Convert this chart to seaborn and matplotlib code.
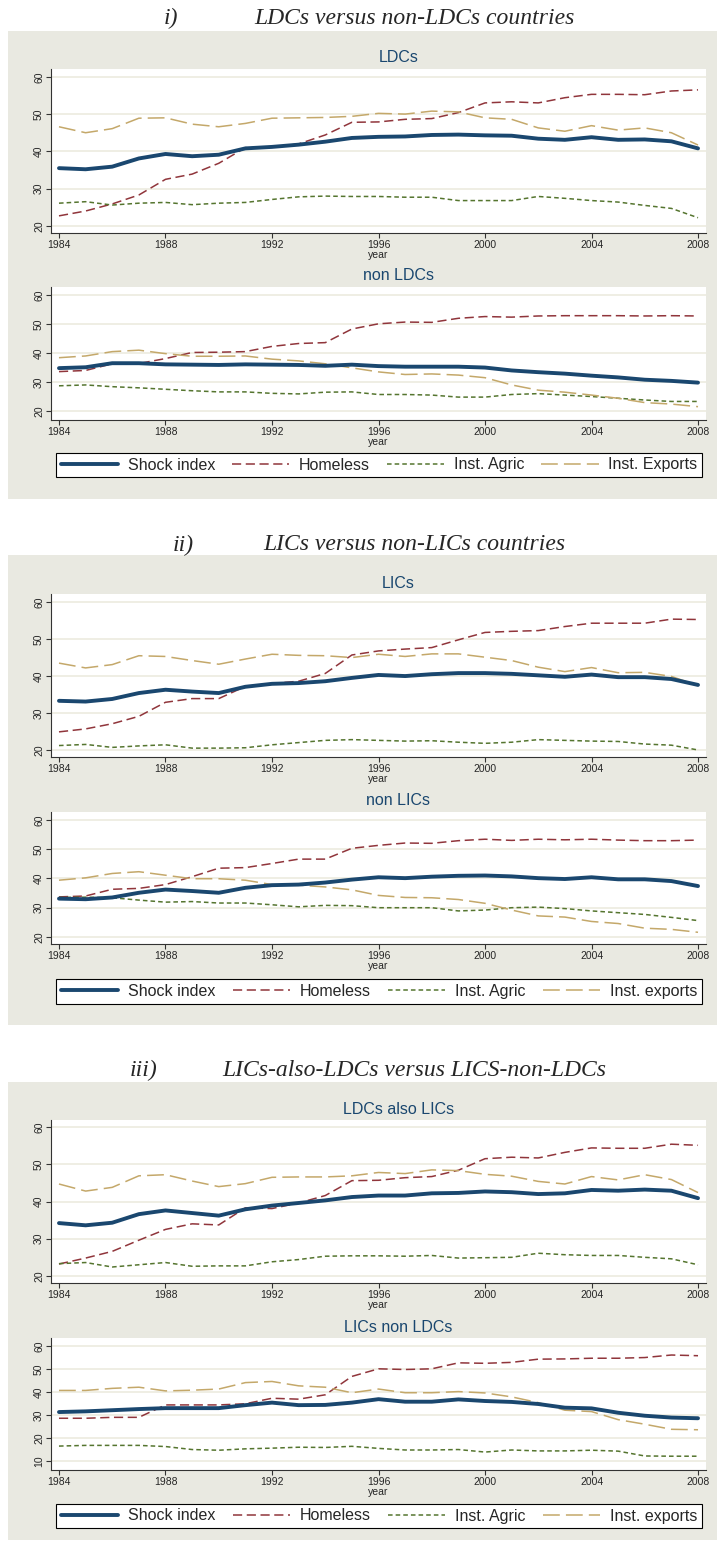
import numpy as np
import pandas as pd
import matplotlib
matplotlib.use("Agg")
import matplotlib.pyplot as plt
from matplotlib.patches import Rectangle
import seaborn as sns

# ---- data (1984-2008) ----
years = list(range(1984, 2009))

ldc_shock = [35.5, 35.2, 35.9, 38.1, 39.3, 38.7, 39.1, 40.8, 41.2, 41.8, 42.6, 43.6, 43.9, 44.0, 44.4, 44.5,
             44.3, 44.2, 43.4, 43.1, 43.8, 43.1, 43.2, 42.7, 40.8]
ldc_homeless = [22.7, 24.0, 25.9, 28.3, 32.5, 33.9, 36.8, 41.0, 41.1, 42.0, 44.4, 47.8, 47.9, 48.6, 48.8, 50.4,
                53.0, 53.3, 53.0, 54.4, 55.3, 55.3, 55.2, 56.2, 56.5]
ldc_agric = [26.1, 26.5, 25.6, 26.1, 26.3, 25.7, 26.1, 26.3, 27.1, 27.8, 28.0, 27.9, 27.9, 27.7, 27.7, 26.8,
             26.8, 26.8, 27.9, 27.4, 26.8, 26.4, 25.5, 24.7, 22.2]
ldc_exports = [46.6, 45.0, 46.1, 48.9, 49.0, 47.3, 46.6, 47.5, 48.9, 49.0, 49.1, 49.4, 50.2, 50.0, 50.8, 50.6,
               49.0, 48.6, 46.3, 45.4, 46.9, 45.7, 46.3, 45.0, 41.7]

nonldc_shock = [34.8, 35.1, 36.5, 36.5, 36.1, 36.0, 35.9, 36.1, 36.0, 35.9, 35.6, 36.0, 35.5, 35.3, 35.3, 35.3,
                35.0, 34.0, 33.4, 32.9, 32.2, 31.6, 30.8, 30.4, 29.8]
nonldc_homeless = [33.6, 34.0, 36.3, 36.4, 38.1, 40.2, 40.3, 40.5, 42.3, 43.3, 43.6, 48.3, 50.1, 50.7, 50.6, 52.0,
                   52.6, 52.4, 52.8, 52.9, 52.9, 52.9, 52.8, 52.9, 52.8]
nonldc_agric = [28.7, 29.0, 28.4, 28.0, 27.5, 27.0, 26.6, 26.6, 26.1, 25.9, 26.5, 26.6, 25.7, 25.7, 25.5, 24.8,
                24.8, 25.7, 26.0, 25.5, 25.0, 24.4, 23.8, 23.3, 23.3]
nonldc_exports = [38.4, 39.0, 40.5, 41.0, 39.8, 38.9, 38.9, 39.0, 37.9, 37.3, 36.3, 34.9, 33.5, 32.6, 32.8, 32.4,
                  31.5, 29.0, 27.2, 26.5, 25.5, 24.4, 22.9, 22.4, 21.5]

lic_shock = [33.3, 33.1, 33.8, 35.4, 36.3, 35.8, 35.4, 37.1, 37.9, 38.1, 38.6, 39.5, 40.3, 40.0, 40.5, 40.8,
             40.8, 40.6, 40.2, 39.8, 40.4, 39.7, 39.7, 39.2, 37.6]
lic_homeless = [24.9, 25.7, 27.1, 29.1, 32.9, 33.9, 33.9, 37.2, 38.0, 38.6, 40.7, 45.7, 46.8, 47.3, 47.7, 49.8,
                51.8, 52.1, 52.3, 53.4, 54.3, 54.3, 54.3, 55.4, 55.3]
lic_agric = [21.2, 21.5, 20.7, 21.1, 21.4, 20.5, 20.5, 20.6, 21.4, 22.0, 22.6, 22.8, 22.6, 22.4, 22.5, 22.1,
             21.8, 22.1, 22.8, 22.6, 22.4, 22.3, 21.6, 21.3, 20.0]
lic_exports = [43.5, 42.2, 43.1, 45.5, 45.3, 44.2, 43.2, 44.6, 45.9, 45.6, 45.5, 45.0, 45.9, 45.3, 46.0, 46.0,
               45.1, 44.2, 42.4, 41.2, 42.3, 40.9, 41.0, 39.9, 37.4]

nonlic_shock = [33.1, 32.9, 33.5, 35.1, 36.2, 35.7, 35.1, 36.8, 37.7, 37.9, 38.6, 39.6, 40.4, 40.1, 40.6, 40.9,
                41.0, 40.7, 40.1, 39.8, 40.4, 39.7, 39.7, 39.1, 37.4]
nonlic_homeless = [33.7, 34.0, 36.3, 36.6, 37.9, 40.6, 43.5, 43.7, 45.1, 46.6, 46.6, 50.3, 51.3, 52.1, 52.0, 52.9,
                   53.4, 53.0, 53.4, 53.2, 53.4, 53.1, 52.9, 52.9, 53.1]
nonlic_agric = [33.5, 33.6, 33.4, 32.6, 31.9, 32.1, 31.6, 31.6, 31.0, 30.3, 30.8, 30.7, 30.0, 30.0, 30.0, 28.9,
                29.2, 30.0, 30.2, 29.7, 28.9, 28.3, 27.7, 26.7, 25.6]
nonlic_exports = [39.4, 40.2, 41.7, 42.3, 41.1, 39.9, 39.9, 39.4, 37.9, 37.7, 37.1, 36.1, 34.2, 33.5, 33.4, 32.8,
                  31.5, 29.2, 27.2, 26.8, 25.3, 24.6, 23.0, 22.6, 21.6]

ldclic_shock = [34.2, 33.6, 34.3, 36.6, 37.6, 36.9, 36.2, 37.9, 38.9, 39.6, 40.3, 41.2, 41.6, 41.6, 42.2, 42.3,
                42.7, 42.5, 42.0, 42.2, 43.1, 42.9, 43.2, 42.9, 40.9]
ldclic_homeless = [23.2, 24.8, 26.6, 29.6, 32.5, 34.0, 33.7, 38.3, 38.1, 39.6, 41.6, 45.6, 45.7, 46.4, 46.7, 48.4,
                   51.5, 51.9, 51.7, 53.2, 54.4, 54.3, 54.3, 55.4, 55.1]
ldclic_agric = [23.3, 23.6, 22.4, 23.0, 23.6, 22.6, 22.7, 22.7, 23.8, 24.4, 25.3, 25.4, 25.4, 25.3, 25.5, 24.8,
                24.9, 25.0, 26.1, 25.7, 25.5, 25.5, 25.0, 24.6, 23.0]
ldclic_exports = [44.7, 42.8, 43.8, 46.9, 47.2, 45.5, 44.0, 44.8, 46.5, 46.6, 46.6, 46.9, 47.8, 47.5, 48.5, 48.3,
                  47.3, 46.8, 45.4, 44.7, 46.7, 45.8, 47.2, 45.9, 42.4]

licnonldc_shock = [31.3, 31.6, 32.1, 32.6, 33.0, 33.0, 33.0, 34.3, 35.4, 34.3, 34.4, 35.4, 36.9, 35.8, 35.8, 36.8,
                   36.1, 35.7, 34.8, 33.2, 32.9, 31.0, 29.7, 28.9, 28.6]
licnonldc_homeless = [28.6, 28.6, 29.0, 29.0, 34.4, 34.4, 34.4, 34.9, 37.3, 36.9, 38.8, 46.8, 50.1, 49.8, 50.1, 52.7,
                      52.5, 52.9, 54.3, 54.4, 54.7, 54.7, 55.0, 56.1, 55.8]
licnonldc_agric = [16.5, 16.8, 16.8, 16.8, 16.3, 15.0, 14.7, 15.3, 15.6, 16.0, 15.9, 16.4, 15.5, 14.8, 14.8, 15.0,
                   13.9, 14.8, 14.4, 14.4, 14.7, 14.3, 12.2, 12.1, 12.1]
licnonldc_exports = [40.7, 40.7, 41.6, 42.1, 40.5, 40.8, 41.3, 44.1, 44.6, 42.7, 42.1, 39.7, 41.3, 39.7, 39.7, 40.2,
                     39.6, 37.9, 35.4, 32.1, 31.5, 28.0, 26.0, 23.8, 23.6]

series_names = ["Shock index", "Homeless", "Inst. Agric", "Inst. Exports"]
series_names_b = ["Shock index", "Homeless", "Inst. Agric", "Inst. exports"]

sections = [
    ("i)", "LDCs versus non-LDCs countries", series_names,
     ("LDCs", [ldc_shock, ldc_homeless, ldc_agric, ldc_exports]),
     ("non LDCs", [nonldc_shock, nonldc_homeless, nonldc_agric, nonldc_exports])),
    ("ii)", "LICs versus non-LICs countries", series_names_b,
     ("LICs", [lic_shock, lic_homeless, lic_agric, lic_exports]),
     ("non LICs", [nonlic_shock, nonlic_homeless, nonlic_agric, nonlic_exports])),
    ("iii)", "LICs-also-LDCs versus LICS-non-LDCs", series_names_b,
     ("LDCs also LICs", [ldclic_shock, ldclic_homeless, ldclic_agric, ldclic_exports]),
     ("LICs non LDCs", [licnonldc_shock, licnonldc_homeless, licnonldc_agric, licnonldc_exports])),
]

# ---- styling ----
colors = ["#1a476f", "#90353b", "#55752f", "#c4a86a"]
widths = [2.8, 1.1, 1.1, 1.1]
styles = ["-", (0, (6, 3)), (0, (3, 2)), (0, (11, 4))]
panel_bg = "#e9e9e1"
grid_c = "#ecebdf"
navy = "#1a476f"

sns.set_theme(style="white")
plt.rcParams["font.family"] = ["Liberation Sans", "DejaVu Sans"]

W, H = 717, 1544
fig = plt.figure(figsize=(W / 100, H / 100), dpi=100)
fig.patch.set_facecolor("white")


def fx(px):
    return px / W


def fy(px):
    return 1 - px / H


# pixel layout of each section
layout = [
    dict(title_y=18, ix=171, panel=(31, 499),
         top=(57, 69, 233, (18.1, 62.1)), bot=(276, 287, 420, (16.9, 62.8)), leg=(452, 478)),
    dict(title_y=545, ix=183, panel=(555, 1025),
         top=(583, 594, 757, (18.1, 62.2)), bot=(801, 812, 944, (17.6, 62.7)), leg=(979, 1004)),
    dict(title_y=1070, ix=144, panel=(1082, 1540),
         top=(1110, 1120, 1283, (18.1, 61.9)), bot=(1327, 1338, 1470, (6.1, 63.5)), leg=(1503, 1529)),
]

AX_L, AX_R = 51, 706
for (roman, title, names, top_panel, bot_panel), lay in zip(sections, layout):
    p0, p1 = lay["panel"]
    fig.patches.append(Rectangle((fx(8), fy(p1)), fx(717 - 8), (p1 - p0) / H,
                                 transform=fig.transFigure, facecolor=panel_bg,
                                 edgecolor="none", zorder=-5))
    fig.text(fx(lay["ix"]), fy(lay["title_y"]), roman, family=["Liberation Serif"],
             style="italic", fontsize=17, ha="center", va="center")
    fig.text(fx(414), fy(lay["title_y"]), title, family=["Liberation Serif"],
             style="italic", fontsize=17, ha="center", va="center")

    for (sub, vals), (sub_y, t, b, ylim) in zip([top_panel, bot_panel], [lay["top"], lay["bot"]]):
        ax = fig.add_axes([fx(AX_L), fy(b), fx(AX_R - AX_L), (b - t) / H])
        ax.set_facecolor("white")
        for name, v, c, lw, ls in zip(names, vals, colors, widths, styles):
            df = pd.DataFrame({"year": years, "value": v})
            sns.lineplot(data=df, x="year", y="value", ax=ax, color=c, linewidth=lw,
                         linestyle=ls, legend=False, zorder=3 if lw > 2 else 2)
        ax.set_xlim(1983.7, 2008.3)
        ax.set_ylim(*ylim)
        ax.set_xticks([1984, 1988, 1992, 1996, 2000, 2004, 2008])
        yt = [20, 30, 40, 50, 60] if ylim[0] > 10 else [10, 20, 30, 40, 50, 60]
        ax.set_yticks(yt)
        ax.grid(axis="y", color=grid_c, linewidth=1.2)
        ax.grid(axis="x", visible=False)
        for s in ["top", "right"]:
            ax.spines[s].set_visible(False)
        for s in ["left", "bottom"]:
            ax.spines[s].set_color("#333333")
            ax.spines[s].set_linewidth(0.8)
        ax.tick_params(axis="both", which="major", length=3.5, width=0.8, color="#333333",
                       labelsize=7.5, pad=1.5, direction="out", bottom=True, left=True)
        plt.setp(ax.get_yticklabels(), rotation=90, va="center")
        ax.set_xlabel("year", fontsize=7.5, labelpad=0)
        ax.set_ylabel("")
        fig.text(fx((AX_L + AX_R) / 2 + 20), fy(sub_y), sub, color=navy, fontsize=11.5,
                 ha="center", va="center")
        handles = ax.get_lines()[:4]

    l0, l1 = lay["leg"]
    leg = fig.legend(handles, names, loc="center", ncol=4, mode="expand",
                     bbox_to_anchor=(fx(56), fy(l1), fx(702 - 56), (l1 - l0) / H),
                     bbox_transform=fig.transFigure, frameon=True, fancybox=False,
                     edgecolor="black", facecolor="white", framealpha=1, fontsize=11.5,
                     handlelength=3.6, handletextpad=0.6, borderaxespad=0, borderpad=0.3,
                     columnspacing=0.8)
    leg.get_frame().set_linewidth(0.8)

fig.savefig("out.png", dpi=100)
